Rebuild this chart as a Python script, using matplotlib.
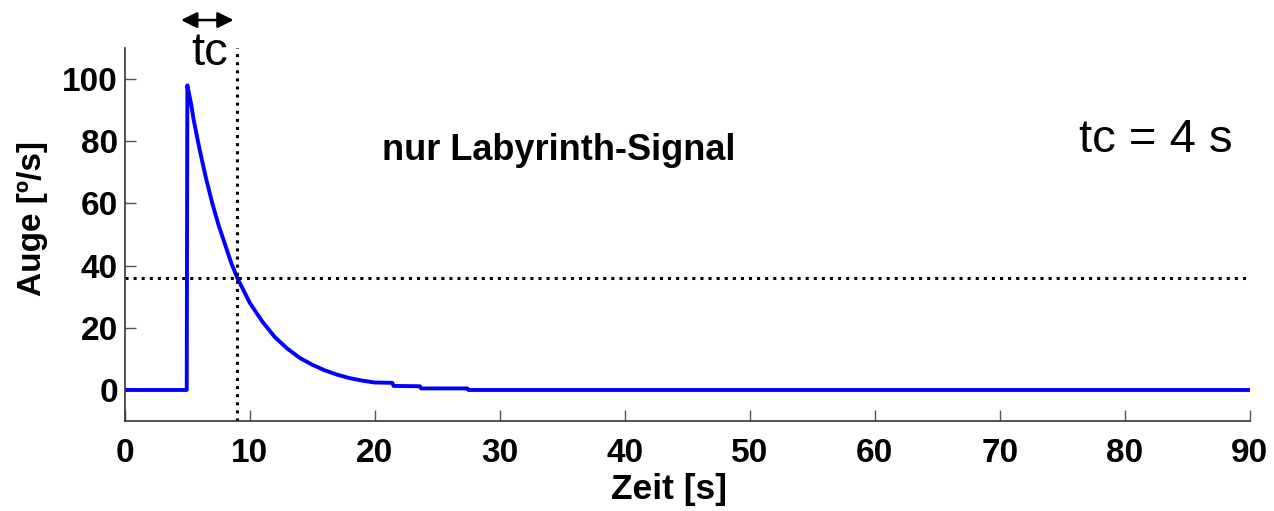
import matplotlib.pyplot as plt
import numpy as np

plt.rcParams['font.family'] = ['Liberation Sans', 'DejaVu Sans']

zeit = [0, 4.95, 5.0, 5.3, 5.5, 6.0, 6.5, 7.0, 7.5, 8.0, 8.5, 9.0, 9.5, 10.0,
        11.0, 12.0, 13.0, 14.0, 15.0, 16.0, 17.0, 18.0, 19.0, 20.0, 21.4,
        21.5, 23.6, 23.7, 27.4, 27.5, 90]
auge = [0, 0, 98, 92, 87, 77, 68, 60, 53, 47, 41, 36, 32, 28,
        22, 17, 13.3, 10.3, 8.1, 6.3, 4.9, 3.8, 3.0, 2.4, 2.3,
        1.3, 1.2, 0.5, 0.5, 0, 0]

tc = 4
t_start = 5
level_tc = 36
x_ticks = np.arange(0, 91, 10)
y_ticks = np.arange(0, 101, 20)

fig = plt.figure(figsize=(12.74, 5.11), dpi=100)
ax = fig.add_axes([0.098, 0.176, 0.883, 0.730])

ax.plot(zeit, auge, color='#0000ff', lw=2.8, solid_joinstyle='round')
ax.axhline(level_tc, color='black', ls=':', lw=2.2, dash_capstyle='butt')
ax.axvline(t_start + tc, color='black', ls=':', lw=2.2, dash_capstyle='butt')

ax.set_xlim(0, 90)
ax.set_ylim(-10, 110)
ax.set_xticks(x_ticks)
ax.set_yticks(y_ticks)
ax.tick_params(direction='in', length=8, width=1, color='#555555',
               labelsize=24)
ax.tick_params(axis='x', pad=12)
ax.tick_params(axis='y', pad=5)
for lab in ax.get_xticklabels() + ax.get_yticklabels():
    lab.set_fontweight('bold')
ax.spines['top'].set_visible(False)
ax.spines['right'].set_visible(False)
for s in ('left', 'bottom'):
    ax.spines[s].set_color('#333333')
    ax.spines[s].set_linewidth(1.2)

ax.set_xlabel('Zeit [s]', fontsize=25.5, fontweight='bold', labelpad=3)
ax.set_ylabel('Auge [º/s]', fontsize=24, fontweight='bold', labelpad=10)
ax.xaxis.label.set_x(0.484)
ax.yaxis.label.set_y(0.544)

ax.text(34.7, 77, 'nur Labyrinth-Signal', fontsize=26, fontweight='bold',
        ha='center', va='center')
ax.text(82.5, 80.5, 'tc = 4 s', fontsize=34, ha='center', va='center')

ax.text(6.8, 104.5, 'tc', fontsize=34, ha='center', va='baseline',
        clip_on=False)
ax.annotate('', xy=(4.5, 119), xytext=(8.7, 119),
            arrowprops=dict(arrowstyle='<|-|>', color='black', lw=1.8,
                            mutation_scale=24, shrinkA=0, shrinkB=0),
            annotation_clip=False)

fig.savefig('out.png', dpi=100)
